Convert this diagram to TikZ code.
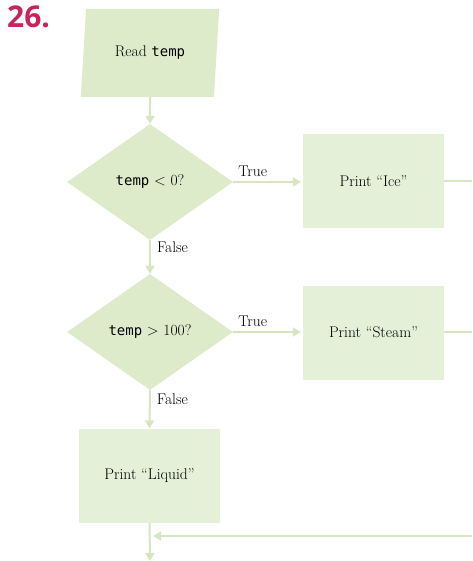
\documentclass[tikz,border=0pt]{standalone}
\usepackage{fontspec}
\setmonofont{DejaVu Sans Mono}
\newfontfamily\numfont{Open Sans}
\usepackage{xcolor}
\usetikzlibrary{positioning, arrows.meta, shapes.geometric}
\definecolor{flowfill}{HTML}{E5F0D8}
\definecolor{flowdark}{HTML}{DEEBCB}
\definecolor{flowline}{HTML}{D6E6C1}
\definecolor{exnum}{HTML}{C8245A}

\tikzset{
  flowbox/.style={fill=flowfill, minimum width=141pt, minimum height=94pt, inner sep=0pt},
  ask/.style={diamond, fill=flowdark, minimum width=166pt, minimum height=116pt, inner sep=0pt},
  flowarrow/.style={draw=flowline, line width=2pt, -{Triangle[width=9pt,length=8pt]}},
  flowline/.style={draw=flowline, line width=2pt},
  lbl/.style={inner sep=1pt}
}

\begin{document}
\begin{tikzpicture}[x=1pt, y=-1pt, font=\fontsize{15.5}{18}\selectfont]
    \useasboundingbox (0,0) rectangle (472,561);
    \node[anchor=north west, text=exnum, inner sep=0pt, font=\numfont\bfseries\fontsize{30}{31}\selectfont] (num) at (7,6) {26.};

    \node[trapezium, trapezium left angle=78, trapezium right angle=102, trapezium stretches=true,
          fill=flowdark, minimum width=139pt, minimum height=88pt, inner sep=0pt] (read) at (150,53) {Read \texttt{\fontsize{14}{18}\selectfont temp}};

    \node[ask] (cold) at (150,182) {\texttt{\fontsize{14}{18}\selectfont temp} < 0?};
    \node[flowbox] (ice) at (373.5,181) {Print ``Ice''};

    \node[ask] (hot) at (150,332) {\texttt{\fontsize{14}{18}\selectfont temp} > 100?};
    \node[flowbox] (steam) at (373.5,332.5) {Print ``Steam''};

    \node[flowbox] (liquid) at (149.5,475.5) {Print ``Liquid''};

    % edge of the page
    \coordinate (iceout) at (472,181);
    \coordinate (steamout) at (472,332);
    \coordinate (backin) at (472,536);
    \coordinate (join) at (150,536);
    \coordinate (done) at (150,561);

    \draw[flowarrow] (read) -- (cold);
    \draw[flowarrow, shorten >=2pt] (cold.east) -- node[lbl, above, pos=0.28, yshift=3pt] {True} (ice.west |- cold.east);
    \draw[flowarrow] (cold.south) -- node[lbl, right, pos=0.22, xshift=5pt] {False} (hot.north);
    \draw[flowarrow, shorten >=2pt] (hot.east) -- node[lbl, above, pos=0.28, yshift=3pt] {True} (steam.west |- hot.east);
    \draw[flowarrow] (hot.south) -- node[lbl, right, pos=0.24, xshift=5pt] {False} (liquid.north);
    \draw[flowline] (ice.east |- iceout) -- (iceout);
    \draw[flowline] (steam.east |- steamout) -- (steamout);
    \draw[flowarrow, shorten >=3pt] (backin) -- (join);
    \draw[flowarrow] (liquid.south) -- (done);
  \end{tikzpicture}
\end{document}
